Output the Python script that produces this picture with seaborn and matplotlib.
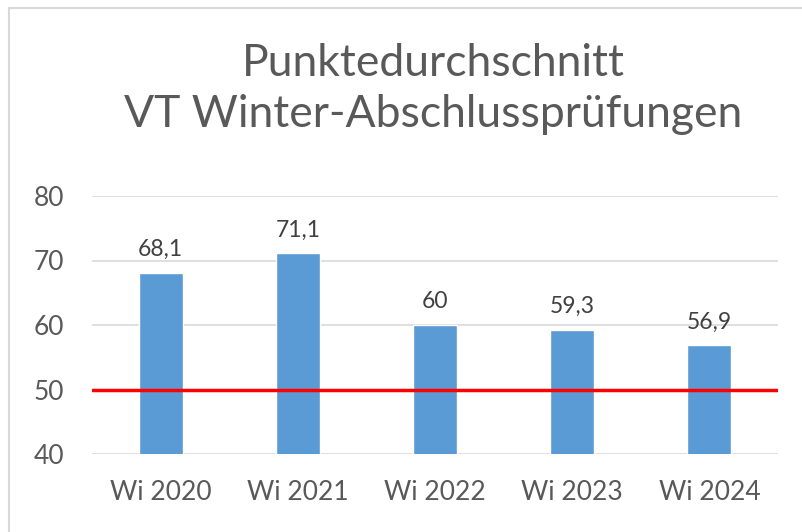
import matplotlib
matplotlib.use("Agg")
import matplotlib.pyplot as plt
import seaborn as sns
import pandas as pd
from matplotlib.patches import Rectangle

categories = ["Wi 2020", "Wi 2021", "Wi 2022", "Wi 2023", "Wi 2024"]
values = [68.1, 71.1, 60.0, 59.3, 56.9]
threshold = 50
y_ticks = [40, 50, 60, 70, 80]
title = "Punktedurchschnitt\nVT Winter-Abschlussprüfungen"

df = pd.DataFrame({"Semester": categories, "Punkte": values})

sns.set_theme(style="white")
plt.rcParams["font.family"] = ["Lato", "DejaVu Sans"]

text_color = "#595959"
fig = plt.figure(figsize=(8.02, 5.32), dpi=100)
ax = fig.add_axes([92 / 802, 1 - 454 / 532, (778 - 92) / 802, (454 - 196) / 532])

sns.barplot(data=df, x="Semester", y="Punkte", color="#5B9BD5", width=0.32,
            saturation=1, ax=ax, zorder=2)

# gridlines at every tick except the threshold
for t in y_ticks:
    if t != threshold:
        ax.axhline(t, color="#D9D9D9", linewidth=1.2, zorder=1)
ax.axhline(threshold, color="#FF0000", linewidth=2.5, zorder=3)

ax.set_ylim(40, 80)
ax.set_xlim(-0.5, len(categories) - 0.5)
ax.set_yticks(y_ticks)
ax.set_xlabel("")
ax.set_ylabel("")
ax.tick_params(axis="both", length=0, labelsize=19, colors=text_color)
ax.tick_params(axis="y", pad=20)
ax.tick_params(axis="x", pad=19)
for s in ax.spines.values():
    s.set_visible(False)

# data labels with decimal comma
for i, v in enumerate(values):
    label = f"{v:g}".replace(".", ",")
    ax.annotate(label, (i, v), xytext=(0, 9), textcoords="offset points",
                ha="center", va="bottom", fontsize=16.5, color="#404040")

fig.text(0.54, 1 - 89 / 532, title, ha="center", va="center", fontsize=32,
         color=text_color, linespacing=1.33)

# chart border
fig.patches.append(Rectangle((9 / 802, -0.05), 1.1, 1 - 8 / 532 + 0.05,
                             transform=fig.transFigure, fill=False,
                             edgecolor="#D9D9D9", linewidth=1.5))

fig.savefig("out.png", dpi=100)
